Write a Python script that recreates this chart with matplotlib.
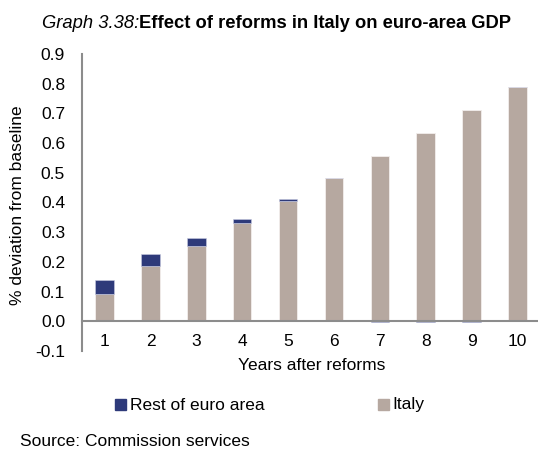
import numpy as np
import matplotlib
matplotlib.use("Agg")
import matplotlib.pyplot as plt
from matplotlib.patches import Rectangle

plt.rcParams['font.family'] = ['Liberation Sans', 'DejaVu Sans']

years = [1, 2, 3, 4, 5, 6, 7, 8, 9, 10]
italy = [0.093, 0.186, 0.255, 0.330, 0.406, 0.481, 0.557, 0.634, 0.710, 0.790]
rest_of_ea = [0.045, 0.042, 0.025, 0.014, 0.006, 0.0, -0.003, -0.003, -0.003, 0.0]
yticks = [-0.1, 0.0, 0.1, 0.2, 0.3, 0.4, 0.5, 0.6, 0.7, 0.8, 0.9]

c_rest = '#2E3A7A'
c_italy = '#B6A8A0'
c_axis = '#8C8C8C'

W, H = 538, 450
fig = plt.figure(figsize=(W / 100, H / 100), dpi=100)
ax = fig.add_axes([81.7 / W, 1 - 351 / H, 1 - 81.7 / W, (351 - 54) / H])

x = np.array(years)
it = np.array(italy)
re = np.array(rest_of_ea)
ax.bar(x, it, width=0.4, color=c_italy, edgecolor='#F2EEEC', linewidth=0.6, zorder=2)
bottoms = np.where(re >= 0, it, 0)
ax.bar(x, re, width=0.4, bottom=bottoms, color=c_rest, edgecolor='#C9CCE0', linewidth=0.4, zorder=3)

ax.set_xlim(0.5, 10.45)
ax.set_ylim(-0.1, 0.9)
ax.set_yticks(yticks)
ax.set_yticklabels([f"{v:.1f}" for v in yticks])
ax.set_xticks(x)
ax.set_xticklabels([str(v) for v in years])

for s in ['top', 'right']:
    ax.spines[s].set_visible(False)
ax.spines['bottom'].set_position(('data', 0))
ax.spines['bottom'].set_color(c_axis)
ax.spines['bottom'].set_linewidth(1.5)
ax.spines['left'].set_color(c_axis)
ax.spines['left'].set_linewidth(1.5)
ax.spines['bottom'].set_zorder(4)
ax.tick_params(axis='y', length=0, pad=12, labelsize=12.5)
ax.tick_params(axis='x', length=0, pad=9, labelsize=12.5)

fig.text(312 / W, 1 - 366 / H, 'Years after reforms', ha='center', va='center', fontsize=12.5)
fig.text(18 / W, 1 - 205 / H, '% deviation from baseline', ha='center', va='center',
         rotation=90, fontsize=12.5)

# Title
t1 = fig.text(42 / W, 1 - 23 / H, 'Graph 3.38:', ha='left', va='center', fontsize=13.2, style='italic')
fig.canvas.draw()
bb = t1.get_window_extent(renderer=fig.canvas.get_renderer())
fig.text(bb.x1 / W, 1 - 23 / H, 'Effect of reforms in Italy on euro-area GDP', ha='left', va='center',
         fontsize=13.2, fontweight='bold')

# Legend
sq = 11
fig.patches.append(Rectangle((115 / W, 1 - (404 + sq / 2) / H), sq / W, sq / H,
                             transform=fig.transFigure, color=c_rest, figure=fig))
fig.text(130 / W, 1 - 405 / H, 'Rest of euro area', ha='left', va='center', fontsize=12.5)
fig.patches.append(Rectangle((378 / W, 1 - (404 + sq / 2) / H), sq / W, sq / H,
                             transform=fig.transFigure, color=c_italy, figure=fig))
fig.text(392 / W, 1 - 405 / H, 'Italy', ha='left', va='center', fontsize=12.5)

fig.text(20 / W, 1 - 442 / H, 'Source: Commission services', ha='left', va='center', fontsize=12.5)

fig.savefig('out.png', dpi=100)
